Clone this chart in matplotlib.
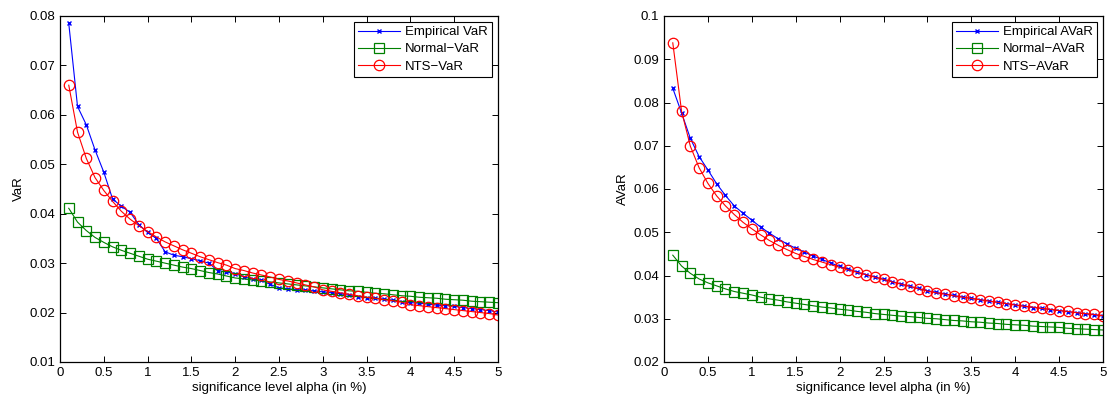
import numpy as np
import matplotlib
matplotlib.use('Agg')
from matplotlib import pyplot as plt

plt.rcParams['font.family'] = ['Liberation Sans', 'DejaVu Sans']

alpha = np.round(np.arange(1, 51) * 0.1, 1)

# VaR values
var_emp = [0.0785, 0.0617, 0.0580, 0.0529, 0.0484, 0.0430, 0.0415, 0.0403, 0.0378, 0.0362,
           0.0350, 0.0323, 0.0316, 0.0313, 0.0309, 0.0305, 0.0300, 0.0285, 0.0282, 0.0279,
           0.0272, 0.0268, 0.0265, 0.0257, 0.0250, 0.0248, 0.0246, 0.0245, 0.0244, 0.0242,
           0.0240, 0.0238, 0.0235, 0.0232, 0.0230, 0.0229, 0.0227, 0.0225, 0.0222, 0.0220,
           0.0219, 0.0217, 0.0215, 0.0214, 0.0213, 0.0210, 0.0208, 0.0206, 0.0204, 0.0201]
var_norm = [0.0411, 0.0383, 0.0366, 0.0352, 0.0342, 0.0333, 0.0326, 0.0320, 0.0314, 0.0308,
            0.0304, 0.0300, 0.0296, 0.0292, 0.0289, 0.0285, 0.0281, 0.0278, 0.0274, 0.0270,
            0.0268, 0.0266, 0.0264, 0.0262, 0.0260, 0.0258, 0.0256, 0.0254, 0.0252, 0.0250,
            0.0248, 0.0246, 0.0244, 0.0243, 0.0241, 0.0239, 0.0238, 0.0236, 0.0234, 0.0233,
            0.0231, 0.0230, 0.0229, 0.0227, 0.0226, 0.0225, 0.0223, 0.0222, 0.0221, 0.0220]
var_nts = [0.0660, 0.0565, 0.0512, 0.0473, 0.0447, 0.0425, 0.0405, 0.0389, 0.0376, 0.0364,
           0.0353, 0.0343, 0.0335, 0.0327, 0.0320, 0.0313, 0.0307, 0.0301, 0.0296, 0.0289,
           0.0285, 0.0280, 0.0276, 0.0272, 0.0267, 0.0264, 0.0260, 0.0256, 0.0252, 0.0246,
           0.0243, 0.0240, 0.0237, 0.0234, 0.0231, 0.0229, 0.0226, 0.0224, 0.0221, 0.0216,
           0.0214, 0.0212, 0.0210, 0.0208, 0.0206, 0.0204, 0.0202, 0.0200, 0.0198, 0.0195]

# AVaR values
avar_emp = [0.0833, 0.0776, 0.0717, 0.0675, 0.0644, 0.0612, 0.0585, 0.0561, 0.0544, 0.0528,
            0.0512, 0.0498, 0.0485, 0.0473, 0.0463, 0.0454, 0.0445, 0.0437, 0.0429, 0.0421,
            0.0415, 0.0408, 0.0402, 0.0397, 0.0391, 0.0386, 0.0380, 0.0375, 0.0370, 0.0365,
            0.0361, 0.0357, 0.0354, 0.0350, 0.0347, 0.0344, 0.0341, 0.0338, 0.0335, 0.0332,
            0.0329, 0.0326, 0.0324, 0.0321, 0.0319, 0.0316, 0.0314, 0.0311, 0.0309, 0.0306]
avar_norm = [0.0447, 0.0422, 0.0405, 0.0392, 0.0383, 0.0376, 0.0369, 0.0363, 0.0359, 0.0355,
             0.0350, 0.0346, 0.0343, 0.0339, 0.0336, 0.0333, 0.0330, 0.0327, 0.0325, 0.0322,
             0.0320, 0.0317, 0.0315, 0.0312, 0.0310, 0.0308, 0.0306, 0.0305, 0.0303, 0.0301,
             0.0300, 0.0298, 0.0296, 0.0295, 0.0293, 0.0292, 0.0290, 0.0289, 0.0287, 0.0286,
             0.0285, 0.0283, 0.0282, 0.0281, 0.0280, 0.0278, 0.0277, 0.0276, 0.0275, 0.0274]
avar_nts = [0.0938, 0.0780, 0.0699, 0.0649, 0.0613, 0.0584, 0.0561, 0.0541, 0.0523, 0.0508,
            0.0494, 0.0481, 0.0470, 0.0460, 0.0451, 0.0444, 0.0437, 0.0431, 0.0425, 0.0419,
            0.0413, 0.0407, 0.0402, 0.0396, 0.0391, 0.0385, 0.0380, 0.0375, 0.0369, 0.0364,
            0.0360, 0.0357, 0.0353, 0.0350, 0.0347, 0.0344, 0.0341, 0.0338, 0.0335, 0.0332,
            0.0329, 0.0327, 0.0324, 0.0322, 0.0319, 0.0317, 0.0314, 0.0312, 0.0310, 0.0307]

xticks = [0, 0.5, 1, 1.5, 2, 2.5, 3, 3.5, 4, 4.5, 5]
xticklabels = ['0', '0.5', '1', '1.5', '2', '2.5', '3', '3.5', '4', '4.5', '5']

fig = plt.figure(figsize=(11.09, 3.99), dpi=100)
ax1 = fig.add_axes([60/1109, 1-362/399, 438/1109, 346/399])
ax2 = fig.add_axes([664/1109, 1-362/399, 439/1109, 346/399])


def draw(ax, emp, norm, nts, names, ylab, ylim, yticks, yticklabels):
    ax.plot(alpha, emp, color='#0000ff', marker='x', ms=3.5, mew=1, lw=0.8, label=names[0])
    ax.plot(alpha, norm, color='#008000', marker='s', ms=7, mfc='none', mew=0.9, lw=0.8, label=names[1])
    ax.plot(alpha, nts, color='#ff0000', marker='o', ms=7.5, mfc='none', mew=0.9, lw=0.8, label=names[2])
    ax.set_xlim(0, 5)
    ax.set_ylim(*ylim)
    ax.set_xticks(xticks)
    ax.set_xticklabels(xticklabels)
    ax.set_yticks(yticks)
    ax.set_yticklabels(yticklabels)
    ax.tick_params(direction='in', top=True, right=True, labelsize=9.5, length=4, width=0.7)
    for s in ax.spines.values():
        s.set_linewidth(0.9)
    ax.set_xlabel('significance level alpha (in %)', fontsize=9.5, labelpad=2)
    ax.set_ylabel(ylab, fontsize=9.5, labelpad=3)
    leg = ax.legend(loc='upper right', fontsize=9.5, fancybox=False, framealpha=1,
                    edgecolor='black', borderaxespad=0.45, handlelength=3.2,
                    handletextpad=0.4, labelspacing=0.38, borderpad=0.3)
    leg.get_frame().set_linewidth(0.8)


draw(ax1, var_emp, var_norm, var_nts, ['Empirical VaR', 'Normal\u2212VaR', 'NTS\u2212VaR'], 'VaR',
     (0.01, 0.08), [0.01, 0.02, 0.03, 0.04, 0.05, 0.06, 0.07, 0.08],
     ['0.01', '0.02', '0.03', '0.04', '0.05', '0.06', '0.07', '0.08'])
draw(ax2, avar_emp, avar_norm, avar_nts, ['Empirical AVaR', 'Normal\u2212AVaR', 'NTS\u2212AVaR'], 'AVaR',
     (0.02, 0.1), [0.02, 0.03, 0.04, 0.05, 0.06, 0.07, 0.08, 0.09, 0.1],
     ['0.02', '0.03', '0.04', '0.05', '0.06', '0.07', '0.08', '0.09', '0.1'])

fig.savefig('out.png', dpi=100)
